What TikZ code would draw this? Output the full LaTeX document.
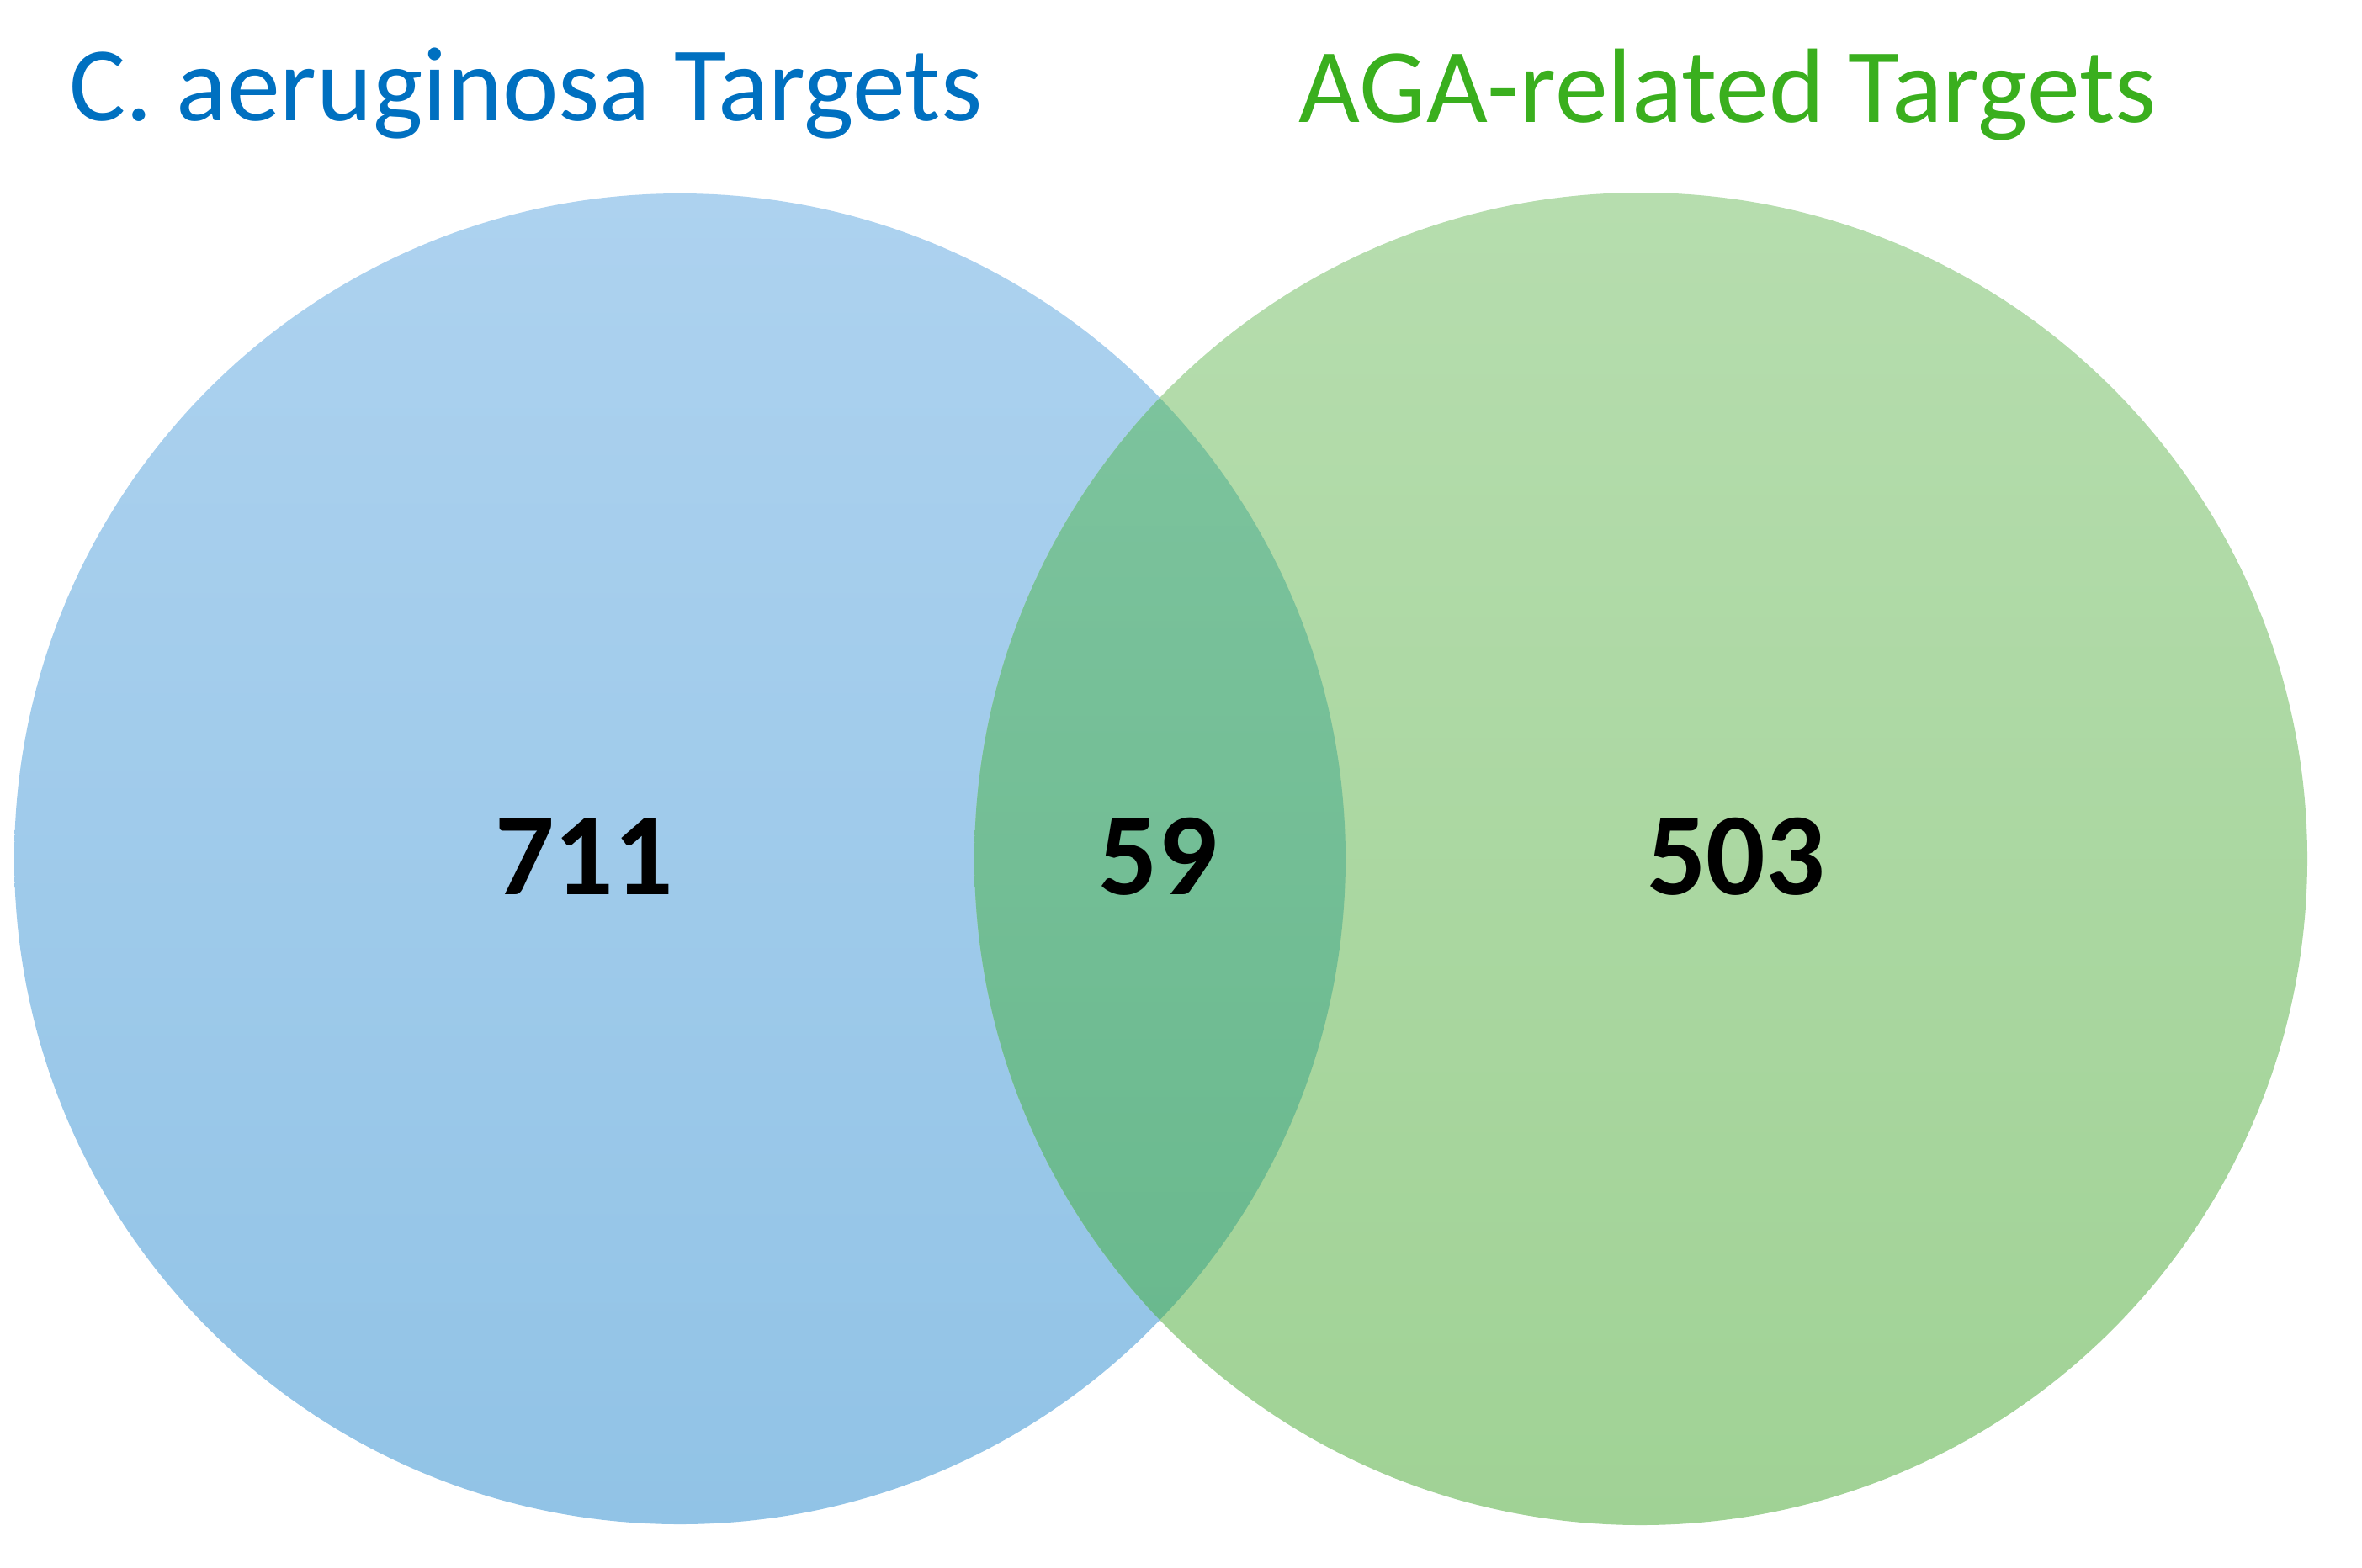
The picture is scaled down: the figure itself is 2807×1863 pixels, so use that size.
\documentclass[tikz,border=0pt]{standalone}
\usepackage{fontspec}
\setmainfont{Carlito}
\definecolor{blueA}{HTML}{ADD2EF}
\definecolor{blueB}{HTML}{91C3E6}
\definecolor{greenA}{HTML}{B6DDAE}
\definecolor{greenB}{HTML}{A0D295}
\definecolor{midA}{HTML}{80C5A0}
\definecolor{midB}{HTML}{66B78B}
\definecolor{titleblue}{HTML}{0070C0}
\definecolor{titlegreen}{HTML}{3AAF1E}
\tikzset{
  settitle/.style={anchor=base, inner sep=0pt, font=\fontsize{35.8}{41}\selectfont},
  setcount/.style={anchor=base, inner sep=0pt, font=\fontsize{39.6}{46}\selectfont\bfseries, text=black}
}
\begin{document}
\begin{tikzpicture}[x=0.01cm,y=-0.01cm]
\useasboundingbox (0,0) rectangle (2807,1863);
\coordinate (cl) at (808,1021);
\coordinate (cr) at (1950,1021);
\shade[top color=blueA, bottom color=blueB] (cl) circle (791);
\shade[top color=greenA, bottom color=greenB] (cr) circle (792);
\begin{scope}
  \clip (cl) circle (791);
  \shade[top color=midA, bottom color=midB] (cr) circle (792);
\end{scope}
\node[settitle, text=titleblue] (tl) at (625,143) {C. aeruginosa Targets};
\node[settitle, text=titlegreen] (tr) at (2053,145) {AGA-related Targets};
\node[setcount] (nl) at (694,1063) {711};
\node[setcount] (nm) at (1376,1063) {59};
\node[setcount] (nr) at (2063,1063) {503};
\end{tikzpicture}
\end{document}
